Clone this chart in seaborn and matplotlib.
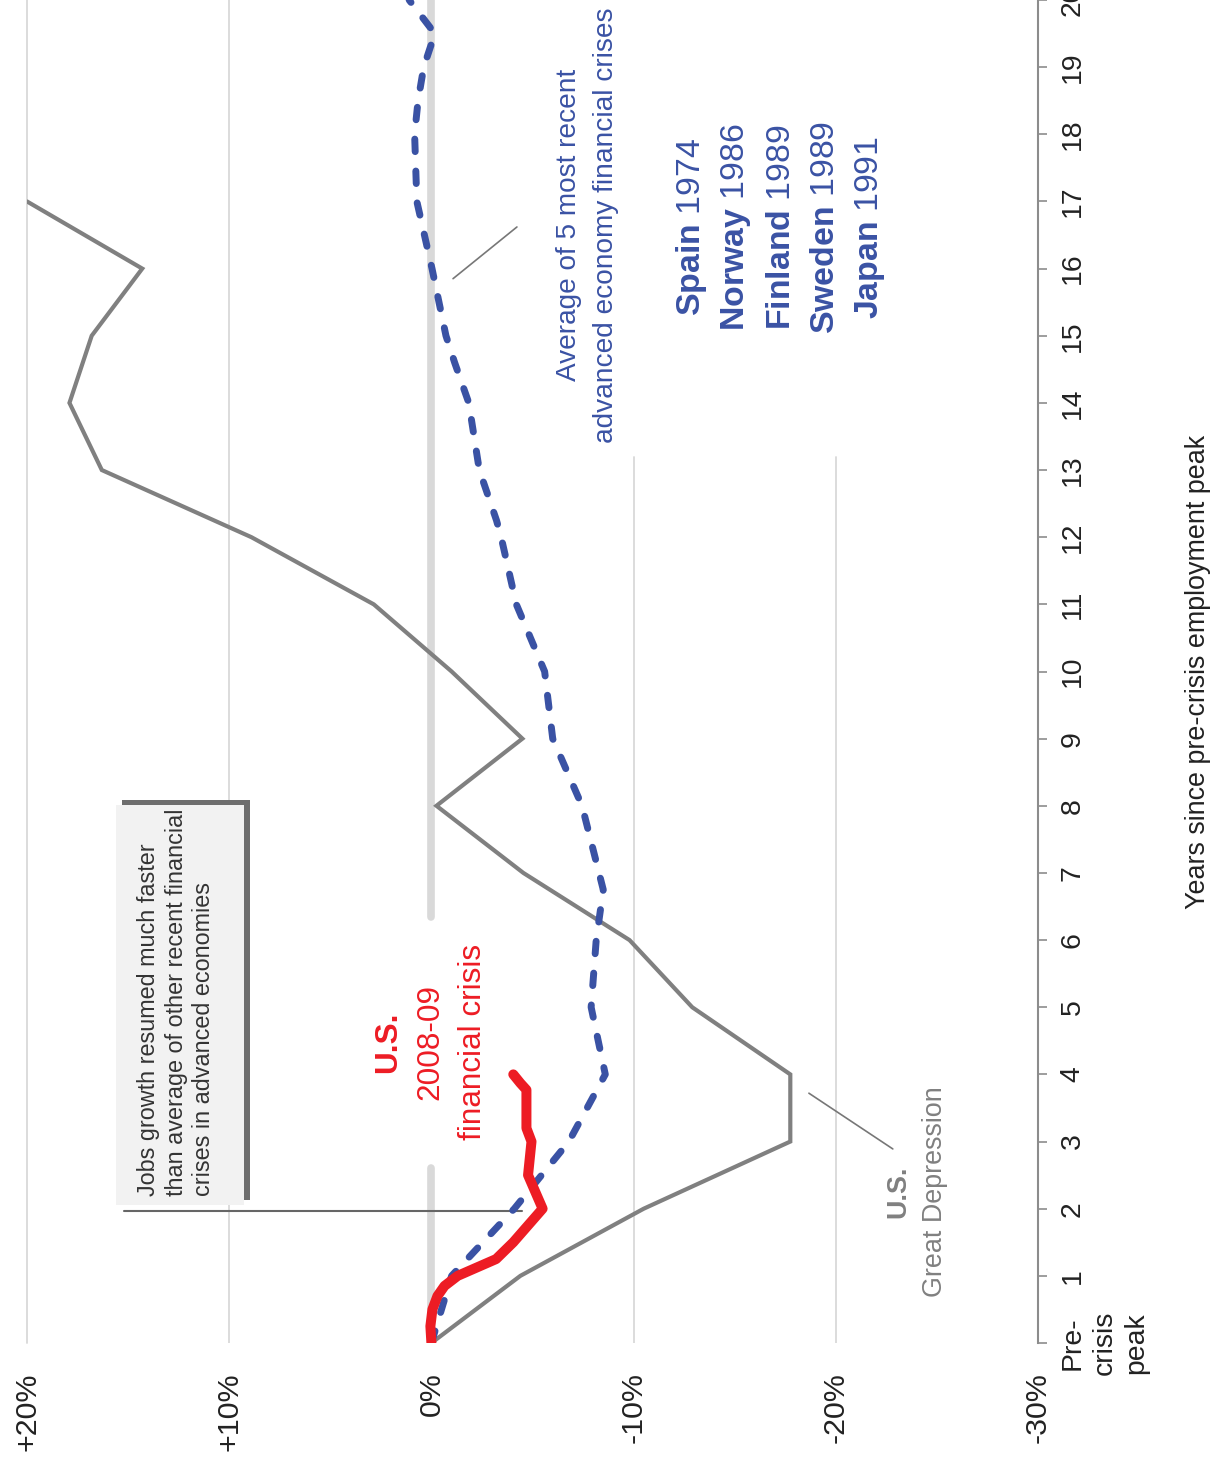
import matplotlib
matplotlib.use("Agg")
import matplotlib.pyplot as plt
import seaborn as sns
import pandas as pd
from matplotlib import font_manager as fm
from matplotlib.patches import Rectangle

# ---------------- data ----------------
gd_years = list(range(18))
gd_change = [0, -4.4, -10.5, -17.75, -17.75, -12.9, -9.8, -4.55, -0.25, -4.5,
             -1.0, 2.85, 8.9, 16.3, 17.9, 16.8, 14.3, 20.0]

avg_years = [0, 1, 2, 3, 4, 5, 6, 6.75, 8, 9, 10, 11, 12, 12.25, 13, 14, 14.6,
             15, 16, 17, 18, 18.5, 19, 19.5, 20]
avg_change = [0, -1.0, -4.1, -6.8, -8.6, -7.9, -8.15, -8.5, -7.45, -6.0, -5.6,
              -4.2, -3.45, -3.22, -2.37, -1.85, -1.15, -0.72, -0.03, 0.72, 0.83,
              0.66, 0.38, -0.17, 1.1]

us_years = [0, 0.25, 0.5, 0.7, 0.85, 1.0, 1.25, 1.5, 2.0, 2.5, 3.0, 3.2, 3.77,
            3.87, 4.0]
us_change = [0, 0.05, -0.05, -0.3, -0.65, -1.3, -3.2, -4.05, -5.5, -4.78, -4.95,
             -4.7, -4.7, -4.4, -4.05]

pct_ticks = [20, 10, 0, -10, -20, -30]
pct_labels = ["+20%", "+10%", "0%", "-10%", "-20%", "-30%"]
year_ticks = list(range(21))
year_labels = ["Pre-\ncrisis\npeak"] + [str(i) for i in range(1, 21)]

countries = ["Spain", "Norway", "Finland", "Sweden", "Japan"]
country_years = ["1974", "1986", "1989", "1989", "1991"]

# ---------------- style ----------------
sns.set_style("white")
avail = {f.name for f in fm.fontManager.ttflist}
if "Liberation Sans Narrow" in avail:
    NARROW, K, KT = "Liberation Sans Narrow", 1.0, 1.0
else:
    NARROW, K, KT = "Liberation Sans", 0.84, 0.95
plt.rcParams["font.family"] = [NARROW, "DejaVu Sans"]
plt.rcParams["mathtext.fontset"] = "custom"
plt.rcParams["mathtext.rm"] = NARROW
plt.rcParams["mathtext.bf"] = NARROW + ":bold"

RED = "#ED1C24"
BLUE = "#3A52A4"
GRAY = "#808080"
GRID = "#D9D9D9"
TXT = "#222222"

W, H = 1214, 1460
fig = plt.figure(figsize=(W / 100, H / 100), dpi=100)
ax = fig.add_axes([27 / W, (H - 1343) / H, (1038 - 27) / W, 1343 / H])
ax.set_xlim(20, -30)
ax.set_ylim(0, 20)

# gridlines
ax.axvline(20, color=GRID, lw=1.3, zorder=0.5, clip_on=False)
ax.axvline(10, color=GRID, lw=1.3, zorder=0.5)
for v in (-10, -20):
    ax.axvline(v, ymin=0, ymax=13.19 / 20, color=GRID, lw=1.3, zorder=0.5)
ax.axvline(0, ymin=0, ymax=2.61 / 20, color=GRID, lw=5.5, zorder=0.6)
ax.axvline(0, ymin=6.34 / 20, ymax=1, color=GRID, lw=5.5, zorder=0.6)

# data lines
df_gd = pd.DataFrame({"year": gd_years, "change": gd_change})
df_avg = pd.DataFrame({"year": avg_years, "change": avg_change})
df_us = pd.DataFrame({"year": us_years, "change": us_change})

sns.lineplot(data=df_gd, x="change", y="year", sort=False, estimator=None,
             color=GRAY, lw=3.0, ax=ax, zorder=3, solid_joinstyle="miter")
sns.lineplot(data=df_avg, x="change", y="year", sort=False, estimator=None,
             color=BLUE, lw=5.0, ax=ax, zorder=4,
             linestyle=(0, (1.8, 2.8)), dash_capstyle="round",
             dash_joinstyle="round")
sns.lineplot(data=df_us, x="change", y="year", sort=False, estimator=None,
             color=RED, lw=7.2, ax=ax, zorder=5,
             solid_capstyle="round", solid_joinstyle="round")

# spines & ticks
for s in ("top", "left", "bottom"):
    ax.spines[s].set_visible(False)
ax.spines["right"].set_color("#8C8C8C")
ax.spines["right"].set_linewidth(1.5)

ax.set_xticks(pct_ticks, labels=pct_labels)
ax.tick_params(axis="x", length=0, pad=21, labelsize=23 * KT,
               labelcolor=TXT, labelrotation=90)
ax.yaxis.tick_right()
ax.set_yticks(year_ticks, labels=year_labels)
ax.tick_params(axis="y", right=True, left=False, length=6.5, width=1.2,
               color="#8C8C8C", pad=9, labelsize=21.5 * KT, labelcolor=TXT,
               labelrotation=90)
for lbl in ax.get_yticklabels():
    lbl.set_va("center")
    lbl.set_ha("left")
    lbl.set_multialignment("center")
    lbl.set_linespacing(1.3)
ax.set_xlabel("")
ax.set_ylabel("")

fig.text(1198 / W, 1 - 672 / H, "Years since pre-crisis employment peak",
         rotation=90, ha="center", va="center", fontsize=23 * K, color=TXT)


def vtext(x, y, s, size, color, weight="normal", **kw):
    ax.text(x, y, s, rotation=90, ha="center", va="center",
            fontsize=size * K, color=color, fontweight=weight, zorder=6, **kw)


# U.S. 2008-09 label
vtext(2.15, 4.48, "U.S.", 27, RED, "bold")
vtext(0.07, 4.48, "2008-09", 27, RED)
vtext(-2.06, 4.48, "financial crisis", 27, RED)

# Great Depression label
vtext(-23.08, 2.25, "U.S.", 23, GRAY, "bold")
vtext(-24.9, 2.25, "Great Depression", 23, GRAY)
ax.plot([-18.67, -22.82], [3.72, 2.89], color="#777777", lw=1.2, zorder=2)

# Average label
vtext(-6.8, 16.65, "Average of 5 most recent", 24, BLUE)
vtext(-8.64, 16.65, "advanced economy financial crises", 24, BLUE)
ax.plot([-1.07, -4.23], [15.85, 16.62], color="#777777", lw=1.2, zorder=2)

# country list
cx = [-12.84, -15.06, -17.29, -19.51, -21.69]
for x, c, y in zip(cx, countries, country_years):
    vtext(x, 16.62, "$\\mathbf{" + c + "}$ " + y, 29, BLUE)

# annotation box
ax.add_patch(Rectangle((15.3, 2.13), 8.97 - 15.3, 8.08 - 2.13,
                       facecolor="#6E6E6E", edgecolor="none", zorder=1.5))
ax.add_patch(Rectangle((15.6, 2.06), 9.27 - 15.6, 8.01 - 2.06,
                       facecolor="#F2F2F2", edgecolor="none", zorder=1.6))
ax.text(12.61, 2.19,
        "Jobs growth resumed much faster\nthan average of other recent financial\ncrises in advanced economies",
        rotation=90, ha="center", va="bottom", multialignment="left",
        linespacing=1.25, fontsize=20 * K, color="#333333", zorder=1.7)
ax.plot([15.21, -4.48], [1.97, 1.97], color="#666666", lw=1.5, zorder=2)

fig.savefig("out.png", dpi=100)
